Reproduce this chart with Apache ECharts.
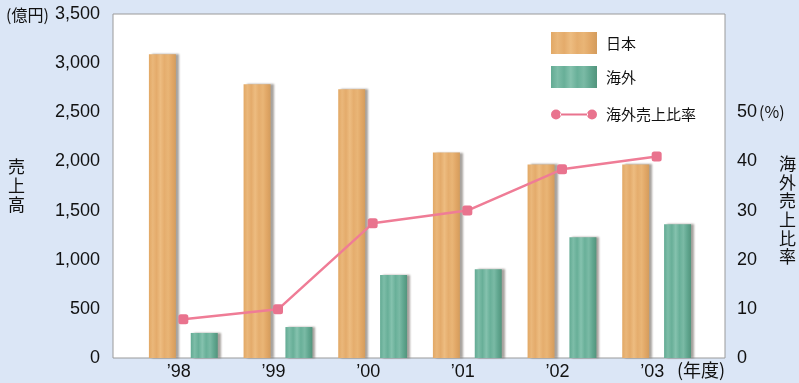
<!DOCTYPE html>
<html>
<head>
<meta charset="utf-8">
<script src="https://cdn.jsdelivr.net/npm/echarts@6/dist/echarts.min.js"></script>
<style>
  html, body { margin: 0; padding: 0; background: #dbe6f6; }
  #chart { width: 799px; height: 383px; }
</style>
</head>
<body>
<div id="chart"></div>
<script>
// 年度
const years = ['’98', '’99', '’00', '’01', '’02', '’03'];
// 売上高（億円）
const japan = [3090, 2785, 2735, 2090, 1970, 1970];
const overseas = [255, 315, 845, 902, 1228, 1360];
// 海外売上比率（%）
const overseasRatio = [7.9, 9.9, 27.4, 30.0, 38.4, 41.0];

const leftTicks = { min: 0, max: 3500, interval: 500 };
const rightTicks = { min: 0, max: 70, interval: 10, lastShown: 50 };

const FONT = '"Liberation Sans", "Noto Sans CJK JP", sans-serif';
const JP = '"Noto Sans CJK JP", sans-serif';

const chart = echarts.init(document.getElementById('chart'));

// 縦縞っぽいテクスチャ
const stripes = (cols) => new echarts.graphic.LinearGradient(0, 0, 1, 0,
  cols.map((c, i) => ({ offset: i / (cols.length - 1), color: c })));

const japanColor = stripes(['#e2a865', '#eab77a', '#e4ab6b', '#edbc80', '#e5ad6d', '#e9b576', '#e1a766', '#d39c5d']);
const overseasColor = stripes(['#62aa93', '#7dbda8', '#68af98', '#85c2ae', '#69b099', '#7abaa5', '#61a790', '#52947c']);

const barShadow = {
  shadowColor: 'rgba(60,50,40,0.45)',
  shadowBlur: 2,
  shadowOffsetX: 3,
  shadowOffsetY: 0,
};

const option = {
  animation: false,
  backgroundColor: '#dbe6f6',
  textStyle: { fontFamily: FONT },
  grid: [
    // 枠（白い描画エリア）
    { left: 113, right: 74, top: 14, bottom: 25, show: true, backgroundColor: '#fff', borderColor: '#9a9a9a', borderWidth: 1 },
    // データ
    { left: 136, right: 95, top: 14, bottom: 25 },
  ],
  legend: [
    {
      orient: 'vertical', left: 546, top: 27,
      itemWidth: 46, itemHeight: 22, itemGap: 12,
      icon: 'rect',
      textStyle: { fontFamily: JP, fontSize: 15, color: '#111', padding: [0, 0, 0, 4] },
      data: ['日本', '海外'],
    },
    {
      orient: 'vertical', left: 546, top: 102,
      itemWidth: 46, itemHeight: 10,
      textStyle: { fontFamily: JP, fontSize: 15, color: '#111', padding: [0, 0, 0, 4] },
      data: [{
        name: '海外売上比率',
        icon: 'path://M0,5a5,5 0 1,0 10,0a5,5 0 1,0 -10,0Z M36,5a5,5 0 1,0 10,0a5,5 0 1,0 -10,0Z M9,4h28v2h-28Z',
      }],
    },
  ],
  xAxis: [
    { type: 'category', gridIndex: 0, show: false, data: years },
    {
      type: 'category', gridIndex: 1, data: years,
      axisLine: { show: false }, axisTick: { show: false },
      axisLabel: { fontSize: 18, color: '#111', margin: 5, padding: [0, 9, 0, 0] },
    },
  ],
  yAxis: [
    { type: 'value', gridIndex: 0, show: false },
    {
      type: 'value', gridIndex: 1, position: 'left', offset: 23,
      min: leftTicks.min, max: leftTicks.max, interval: leftTicks.interval,
      axisLine: { show: false }, axisTick: { show: false }, splitLine: { show: false },
      axisLabel: {
        fontSize: 18, color: '#111', margin: 13,
        formatter: (v) => v.toString().replace(/\B(?=(\d{3})+(?!\d))/g, ','),
      },
    },
    {
      type: 'value', gridIndex: 1, position: 'right', offset: 21,
      min: rightTicks.min, max: rightTicks.max, interval: rightTicks.interval,
      axisLine: { show: false }, axisTick: { show: false }, splitLine: { show: false },
      axisLabel: {
        fontSize: 18, color: '#111', margin: 12,
        formatter: (v) => v > rightTicks.lastShown ? '' : (v === rightTicks.lastShown ? '{a|' + v + '}{b|(%)}' : String(v)),
        rich: {
          a: { fontSize: 18, color: '#111', fontFamily: FONT },
          b: { fontSize: 16, color: '#111', fontFamily: JP, padding: [0, 0, 0, 2] },
        },
      },
    },
  ],
  series: [
    {
      name: '日本', type: 'bar', xAxisIndex: 1, yAxisIndex: 1,
      data: japan, barWidth: 27, barGap: '55%', barCategoryGap: '27%',
      itemStyle: Object.assign({ color: japanColor }, barShadow),
    },
    {
      name: '海外', type: 'bar', xAxisIndex: 1, yAxisIndex: 1,
      data: overseas, barWidth: 27,
      itemStyle: Object.assign({ color: overseasColor }, barShadow),
    },
    {
      name: '海外売上比率', type: 'line', xAxisIndex: 1, yAxisIndex: 2,
      data: overseasRatio, z: 5,
      symbol: 'roundRect', symbolSize: 10,
      lineStyle: { color: '#ef7c96', width: 2.5 },
      itemStyle: { color: '#e9738e' },
    },
  ],
  graphic: [
    { type: 'text', left: 6, top: 7, style: { text: '(億円)', font: '16px ' + JP, fill: '#111' } },
    { type: 'text', left: 8, top: 157, style: { text: '売\n上\n高', font: '17px ' + JP, fill: '#111', lineHeight: 19 } },
    { type: 'text', left: 779, top: 154, style: { text: '海\n外\n売\n上\n比\n率', font: '17px ' + JP, fill: '#111', lineHeight: 18.7 } },
    { type: 'text', left: 677, top: 361, style: { text: '(年度)', font: '18px ' + JP, fill: '#111' } },
  ],
};

chart.setOption(option);
</script>
</body>
</html>
